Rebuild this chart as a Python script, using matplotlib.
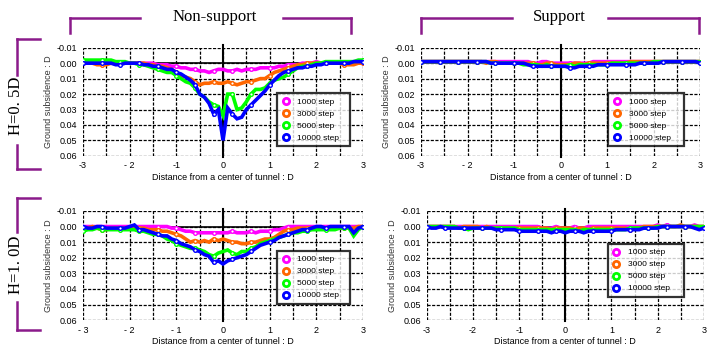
import numpy as np
import matplotlib
matplotlib.use("Agg")
import matplotlib.pyplot as plt
from matplotlib.lines import Line2D

# distance from tunnel centre (D), same sampling for every series
x = np.round(np.linspace(-3.0, 3.0, 61), 1)

steps = ["1000 step", "3000 step", "5000 step", "10000 step"]
colors = ["#ff00ff", "#ff6600", "#00ff00", "#0000ff"]

# H=0.5D, non-support
ns05_1000 = [0.000, 0.000, 0.000, 0.000, 0.000, 0.000, 0.000, 0.000, 0.000, 0.000,
             0.000, 0.000, 0.000, 0.000, 0.000, 0.000, 0.001, 0.001, 0.001, 0.002,
             0.002, 0.003, 0.003, 0.004, 0.004, 0.005, 0.005, 0.006, 0.005, 0.004,
             0.004, 0.005, 0.005, 0.004, 0.005, 0.004, 0.004, 0.004, 0.003, 0.003,
             0.003, 0.003, 0.002, 0.002, 0.001, 0.001, 0.001, 0.000, 0.000, 0.000,
             -0.001, 0.000, 0.000, 0.000, 0.000, 0.000, 0.000, 0.000, 0.000, 0.000, 0.000]
ns05_3000 = [0.000, 0.000, 0.000, 0.001, 0.001, 0.001, 0.000, 0.000, 0.000, 0.000,
             0.000, 0.000, 0.000, 0.000, 0.001, 0.001, 0.002, 0.002, 0.003, 0.004,
             0.006, 0.008, 0.009, 0.010, 0.012, 0.014, 0.013, 0.013, 0.012, 0.013,
             0.013, 0.012, 0.013, 0.014, 0.013, 0.012, 0.012, 0.011, 0.010, 0.010,
             0.008, 0.006, 0.005, 0.004, 0.003, 0.002, 0.001, 0.001, 0.000, 0.000,
             0.000, 0.000, 0.000, 0.000, 0.000, 0.000, 0.001, 0.001, 0.001, 0.000, 0.000]
ns05_5000 = [-0.002, -0.002, -0.002, -0.002, -0.002, -0.002, -0.002, -0.001, -0.001, -0.001,
             0.000, 0.000, 0.001, 0.001, 0.002, 0.003, 0.004, 0.005, 0.006, 0.006,
             0.008, 0.010, 0.012, 0.013, 0.016, 0.020, 0.022, 0.025, 0.027, 0.028,
             0.034, 0.020, 0.020, 0.030, 0.029, 0.025, 0.020, 0.017, 0.017, 0.016,
             0.013, 0.011, 0.010, 0.009, 0.007, 0.005, 0.003, 0.002, 0.002, 0.001,
             0.000, 0.000, -0.001, -0.001, -0.001, -0.001, -0.001, -0.001, -0.001, -0.002, -0.002]
ns05_10000 = [0.000, 0.000, 0.000, 0.000, 0.000, 0.000, 0.000, 0.001, 0.001, 0.000,
              0.000, 0.000, 0.000, 0.001, 0.001, 0.002, 0.002, 0.003, 0.004, 0.004,
              0.006, 0.007, 0.009, 0.011, 0.014, 0.020, 0.022, 0.026, 0.033, 0.030,
              0.050, 0.029, 0.033, 0.036, 0.035, 0.030, 0.027, 0.024, 0.021, 0.018,
              0.014, 0.011, 0.008, 0.006, 0.005, 0.004, 0.003, 0.003, 0.002, 0.002,
              0.001, 0.001, 0.000, 0.000, 0.000, 0.000, 0.000, 0.000, -0.001, -0.001, -0.001]

# H=0.5D, support
s05_1000 = [-0.001, -0.001, -0.001, -0.001, -0.001, -0.001, -0.001, -0.001, -0.001, -0.001,
            -0.001, -0.001, -0.001, -0.001, -0.001, -0.001, -0.001, -0.001, -0.001, -0.001,
            -0.001, -0.001, -0.001, -0.001, 0.000, 0.000, -0.001, -0.001, 0.000, 0.000,
            0.000, 0.000, 0.000, 0.000, 0.000, 0.000, 0.000, -0.001, -0.001, -0.001,
            -0.001, -0.001, -0.001, -0.001, -0.001, -0.001, -0.001, -0.001, -0.001, -0.001,
            -0.001, -0.001, -0.001, -0.001, -0.001, -0.001, -0.001, -0.001, -0.001, -0.001, -0.001]
s05_3000 = [-0.001, -0.001, -0.001, -0.001, -0.001, -0.001, -0.001, -0.001, -0.001, -0.001,
            -0.001, -0.001, -0.001, -0.001, 0.000, -0.001, -0.001, 0.000, 0.000, 0.000,
            0.000, 0.000, 0.000, 0.000, 0.000, 0.001, 0.001, 0.000, 0.000, 0.001,
            0.001, 0.001, 0.001, 0.000, 0.000, 0.001, 0.000, 0.000, 0.000, 0.000,
            0.000, 0.000, 0.000, 0.000, 0.000, -0.001, -0.001, -0.001, -0.001, -0.001,
            -0.001, -0.001, -0.001, -0.001, -0.001, -0.001, -0.001, -0.001, -0.001, -0.001, -0.001]
s05_5000 = [-0.001, -0.001, -0.001, -0.001, -0.001, -0.001, -0.001, -0.001, -0.001, -0.001,
            -0.001, -0.001, -0.001, -0.001, -0.001, 0.000, 0.000, 0.000, 0.000, 0.000,
            0.000, 0.000, 0.001, 0.001, 0.001, 0.001, 0.002, 0.001, 0.002, 0.002,
            0.002, 0.002, 0.001, 0.002, 0.001, 0.001, 0.001, 0.001, 0.001, 0.001,
            0.001, 0.000, 0.000, 0.000, 0.000, 0.000, 0.000, 0.000, 0.000, 0.000,
            -0.001, -0.001, -0.001, -0.001, -0.001, -0.001, -0.001, -0.001, -0.001, -0.001, -0.001]
s05_10000 = [-0.001, -0.001, -0.001, -0.001, -0.001, -0.001, -0.001, -0.001, -0.001, -0.001,
             -0.001, -0.001, -0.001, -0.001, -0.001, 0.000, 0.000, 0.000, 0.000, 0.000,
             0.000, 0.000, 0.000, 0.001, 0.002, 0.002, 0.002, 0.002, 0.002, 0.002,
             0.002, 0.002, 0.003, 0.003, 0.002, 0.002, 0.002, 0.002, 0.001, 0.001,
             0.001, 0.001, 0.001, 0.001, 0.001, 0.001, 0.001, 0.000, 0.000, 0.000,
             0.000, 0.000, -0.001, -0.001, -0.001, -0.001, -0.001, -0.001, -0.001, -0.001, 0.000]

# H=1.0D, non-support
ns10_1000 = [0.000, 0.000, 0.000, 0.000, 0.000, 0.000, 0.000, 0.000, 0.000, 0.000,
             0.000, 0.000, 0.000, 0.000, 0.000, 0.000, 0.000, 0.000, 0.000, 0.001,
             0.001, 0.002, 0.003, 0.003, 0.004, 0.004, 0.004, 0.004, 0.004, 0.004,
             0.004, 0.004, 0.003, 0.004, 0.004, 0.004, 0.003, 0.004, 0.003, 0.003,
             0.003, 0.002, 0.002, 0.001, 0.000, 0.000, 0.000, 0.000, 0.000, 0.000,
             0.000, 0.000, 0.000, 0.000, 0.000, 0.000, 0.000, 0.000, 0.000, 0.000, 0.000]
ns10_3000 = [0.001, 0.001, 0.000, 0.001, 0.002, 0.002, 0.001, 0.001, 0.001, 0.001,
             0.001, 0.001, 0.001, 0.001, 0.002, 0.002, 0.002, 0.003, 0.003, 0.004,
             0.005, 0.006, 0.008, 0.010, 0.009, 0.010, 0.009, 0.010, 0.008, 0.009,
             0.008, 0.009, 0.010, 0.010, 0.011, 0.011, 0.010, 0.010, 0.009, 0.008,
             0.008, 0.007, 0.005, 0.003, 0.002, 0.002, 0.001, 0.001, 0.001, 0.001,
             0.001, 0.001, 0.001, 0.001, 0.001, 0.001, 0.001, 0.001, 0.001, 0.000, 0.000]
ns10_5000 = [0.003, 0.002, 0.002, 0.001, 0.002, 0.002, 0.002, 0.002, 0.002, 0.002,
             0.002, 0.002, 0.003, 0.003, 0.004, 0.005, 0.005, 0.006, 0.008, 0.009,
             0.011, 0.012, 0.013, 0.014, 0.014, 0.015, 0.016, 0.018, 0.019, 0.017,
             0.016, 0.015, 0.017, 0.018, 0.016, 0.016, 0.014, 0.013, 0.011, 0.010,
             0.009, 0.008, 0.007, 0.006, 0.005, 0.004, 0.004, 0.003, 0.003, 0.002,
             0.002, 0.002, 0.002, 0.002, 0.002, 0.001, 0.001, 0.001, 0.006, 0.002, 0.000]
ns10_10000 = [0.000, 0.001, 0.001, 0.000, 0.000, 0.001, 0.001, 0.001, 0.001, 0.001,
              0.000, -0.001, 0.002, 0.002, 0.003, 0.004, 0.005, 0.006, 0.006, 0.008,
              0.009, 0.011, 0.012, 0.013, 0.015, 0.016, 0.018, 0.019, 0.023, 0.022,
              0.024, 0.022, 0.021, 0.020, 0.019, 0.018, 0.016, 0.014, 0.012, 0.011,
              0.010, 0.009, 0.007, 0.006, 0.005, 0.004, 0.003, 0.002, 0.002, 0.001,
              0.000, 0.000, 0.001, 0.000, 0.000, 0.000, 0.000, 0.000, 0.004, 0.001, 0.000]

# H=1.0D, support
s10_1000 = [0.000, 0.000, 0.000, 0.000, 0.000, 0.000, 0.000, 0.000, 0.000, 0.000,
            0.000, 0.000, 0.000, 0.000, 0.000, 0.000, 0.000, 0.000, 0.000, 0.000,
            0.000, 0.000, 0.000, 0.000, 0.000, 0.001, 0.001, 0.001, 0.000, 0.001,
            0.001, 0.001, 0.000, 0.001, 0.001, 0.000, 0.000, 0.000, 0.000, 0.000,
            0.000, 0.000, 0.000, 0.000, 0.000, 0.000, 0.000, 0.000, 0.000, 0.000,
            -0.001, 0.000, -0.001, 0.000, 0.000, 0.000, 0.000, 0.000, -0.001, 0.000, 0.000]
s10_3000 = [0.000, 0.000, 0.000, 0.000, 0.000, 0.000, 0.000, 0.001, 0.000, 0.000,
            0.000, 0.000, 0.001, 0.000, 0.001, 0.001, 0.001, 0.001, 0.001, 0.001,
            0.001, 0.001, 0.001, 0.001, 0.001, 0.001, 0.001, 0.002, 0.001, 0.001,
            0.001, 0.001, 0.002, 0.001, 0.001, 0.002, 0.001, 0.001, 0.001, 0.001,
            0.001, 0.001, 0.001, 0.001, 0.002, 0.001, 0.001, 0.000, 0.000, 0.000,
            0.000, 0.000, 0.000, 0.000, 0.000, -0.001, 0.000, 0.000, 0.000, 0.000, 0.000]
s10_5000 = [0.000, 0.000, 0.000, 0.000, 0.000, 0.000, 0.000, 0.001, 0.001, 0.002,
            0.001, 0.001, 0.001, 0.001, 0.001, 0.001, 0.001, 0.001, 0.001, 0.001,
            0.002, 0.002, 0.002, 0.002, 0.002, 0.002, 0.002, 0.002, 0.002, 0.002,
            0.002, 0.002, 0.002, 0.003, 0.002, 0.002, 0.002, 0.002, 0.002, 0.002,
            0.002, 0.002, 0.002, 0.002, 0.001, 0.001, 0.001, 0.001, 0.001, 0.001,
            0.000, 0.000, 0.000, 0.000, 0.000, 0.000, 0.000, 0.000, 0.000, 0.000, 0.000]
s10_10000 = [0.000, 0.001, 0.001, 0.000, 0.001, 0.001, 0.001, 0.001, 0.001, 0.001,
             0.001, 0.001, 0.001, 0.001, 0.001, 0.002, 0.002, 0.002, 0.002, 0.002,
             0.003, 0.003, 0.003, 0.003, 0.003, 0.003, 0.003, 0.004, 0.003, 0.003,
             0.004, 0.003, 0.003, 0.003, 0.004, 0.003, 0.003, 0.003, 0.003, 0.003,
             0.003, 0.002, 0.002, 0.002, 0.002, 0.002, 0.002, 0.001, 0.001, 0.001,
             0.001, 0.000, 0.000, 0.000, 0.000, 0.000, 0.000, 0.000, 0.001, 0.002, 0.001]

panels = [
    ([0.116, 0.556, 0.391, 0.308], [ns05_1000, ns05_3000, ns05_5000, ns05_10000],
     ["-3", "- 2", "-1", "0", "1", "2", "3"], (0.693, 0.12, 0.261, 0.426)),
    ([0.588, 0.556, 0.390, 0.308], [s05_1000, s05_3000, s05_5000, s05_10000],
     ["-3", "- 2", "-1", "0", "1", "2", "3"], (0.67, 0.12, 0.273, 0.426)),
    ([0.116, 0.088, 0.391, 0.311], [ns10_1000, ns10_3000, ns10_5000, ns10_10000],
     ["- 3", "- 2", "- 1", "0", "1", "2", "3"], (0.693, 0.174, 0.261, 0.432)),
    ([0.596, 0.088, 0.387, 0.311], [s10_1000, s10_3000, s10_5000, s10_10000],
     ["-3", "-2", "-1", "0", "1", "2", "3"], (0.653, 0.248, 0.275, 0.412)),
]

plt.rcParams['font.family'] = ['Liberation Sans', 'DejaVu Sans']
fig = plt.figure(figsize=(7.16, 3.51), dpi=100)

for rect, series, xlabels, legbox in panels:
    ax = fig.add_axes(rect)
    for xv in np.arange(-3, 3.01, 0.5):
        ax.axvline(xv, color="black", lw=0.9, ls=(0, (2.5, 1.2)), zorder=1)
    for yv in np.arange(-0.01, 0.0601, 0.01):
        ax.axhline(yv, color="black", lw=0.9, ls=(0, (2.5, 1.2)), zorder=1)
    ax.axhline(0, color="black", lw=1.2, zorder=1)
    ax.plot([0, 0], [-0.0115, 0.0605], color="black", lw=1.5, zorder=2, clip_on=False)
    for vals, c in zip(series, colors):
        ax.plot(x, vals, color=c, lw=2.6, marker="o", ms=2.6, mfc="white", mec=c,
                mew=1.0, markevery=4, zorder=3, solid_joinstyle="miter")
    ax.set_xlim(-3, 3)
    ax.set_ylim(0.06, -0.01)
    for s in ax.spines.values():
        s.set_visible(False)
    ax.set_xticks([-3, -2, -1, 0, 1, 2, 3])
    ax.set_xticklabels(xlabels)
    ax.set_yticks([-0.01, 0.0, 0.01, 0.02, 0.03, 0.04, 0.05, 0.06])
    ax.set_yticklabels(["-0.01", "0.00", "0.01", "0.02", "0.03", "0.04", "0.05", "0.06"])
    ax.tick_params(length=0, labelsize=6.5, pad=4)
    ax.set_xlabel("Distance from a center of tunnel : D", fontsize=6.5, labelpad=2)
    ax.set_ylabel("Ground subsidence : D", fontsize=6.5, color="#333333", labelpad=3)
    handles = [Line2D([], [], ls="none", marker="o", ms=4.5, mfc="white", mec=c, mew=2.0)
               for c in colors]
    leg = ax.legend(handles, steps, loc="center", bbox_to_anchor=legbox, mode="expand",
                    fontsize=6, frameon=True, fancybox=False, labelspacing=0.5,
                    handletextpad=0.9, borderpad=0.55, handlelength=1.0, borderaxespad=0)
    leg.get_frame().set_edgecolor("black")
    leg.get_frame().set_linewidth(1.6)
    leg.set_zorder(5)

# purple brackets and headings, drawn in pixel coordinates
W, H = 716, 351
purple = "#8b1a8b"


def seg(x0, y0, x1, y1):
    fig.add_artist(Line2D([x0 / W, x1 / W], [1 - y0 / H, 1 - y1 / H], color=purple, lw=1.8))


seg(70, 33, 70, 18); seg(70, 18, 140, 18); seg(283, 18, 351, 18); seg(351, 18, 351, 33)
seg(421, 33, 421, 18); seg(421, 18, 512, 18); seg(608, 18, 699, 18); seg(699, 18, 699, 33)
seg(40, 39, 17, 39); seg(17, 39, 17, 75); seg(17, 145, 17, 169); seg(17, 169, 40, 169)
seg(40, 198, 17, 198); seg(17, 198, 17, 232); seg(17, 302, 17, 330); seg(17, 330, 40, 330)

serif = ['Liberation Serif', 'DejaVu Serif']
fig.text(215 / W, 1 - 17 / H, "Non-support", ha="center", va="center", fontsize=12, family=serif)
fig.text(559 / W, 1 - 17 / H, "Support", ha="center", va="center", fontsize=12, family=serif)
fig.text(16 / W, 1 - 106 / H, "H=0. 5D", ha="center", va="center", rotation=90, fontsize=12, family=serif)
fig.text(16 / W, 1 - 265 / H, "H=1. 0D", ha="center", va="center", rotation=90, fontsize=12, family=serif)

fig.savefig("out.png", dpi=100)
